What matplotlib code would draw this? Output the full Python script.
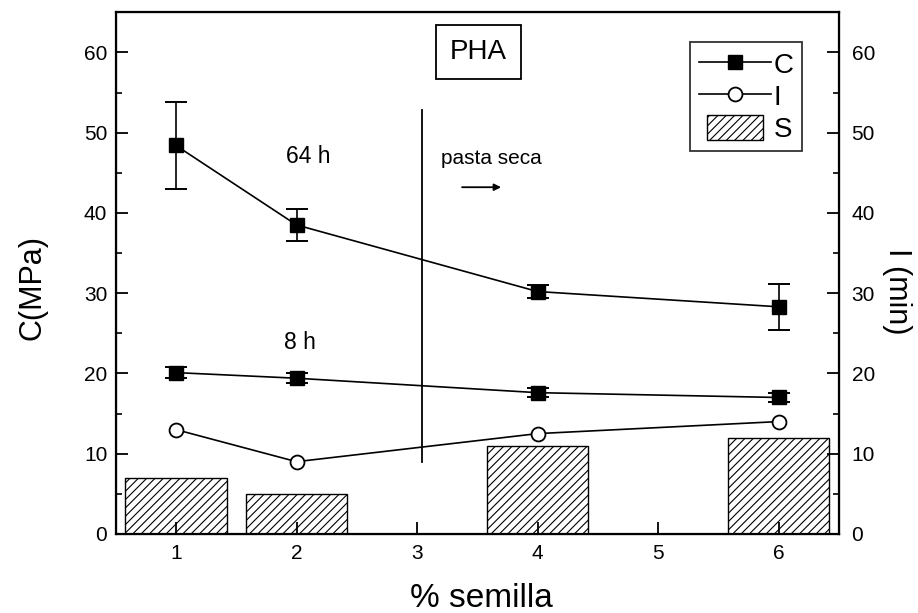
import matplotlib
matplotlib.use("Agg")
import matplotlib.pyplot as plt
from matplotlib.lines import Line2D
from matplotlib.patches import Rectangle
from matplotlib.legend_handler import HandlerPatch
from matplotlib.ticker import MultipleLocator

plt.rcParams.update({
    "font.family": "sans-serif",
    "font.sans-serif": ["Liberation Sans", "DejaVu Sans"],
    "hatch.linewidth": 0.8,
})

semilla = [1, 2, 4, 6]
c_64h = [48.4, 38.5, 30.2, 28.3]
c_64h_err = [5.4, 2.0, 0.8, 2.9]
c_8h = [20.1, 19.4, 17.6, 17.0]
c_8h_err = [0.7, 0.6, 0.6, 0.6]
i_min = [13.0, 9.0, 12.5, 14.0]
s_bar = [7.0, 5.0, 11.0, 12.0]

fig = plt.figure(figsize=(9.18, 6.13), dpi=100)
ax = fig.add_axes([0.126, 0.129, 0.788, 0.851])

ax.bar(semilla, s_bar, width=0.84, color="white", edgecolor="black",
       hatch="////", lw=1.0, zorder=1)
ax.plot(semilla, i_min, "-o", color="black", mfc="white", mec="black",
        ms=10, lw=1.2, mew=1.3, zorder=3)
for valores, errores in [(c_64h, c_64h_err), (c_8h, c_8h_err)]:
    ax.errorbar(semilla, valores, yerr=errores, fmt="-s", color="black",
                ms=10, lw=1.2, capsize=8, capthick=1.4, elinewidth=1.2,
                zorder=3)

ax.plot([3.04, 3.04], [9.0, 52.8], color="black", lw=1.3)
ax.text(2.1, 47.0, "64 h", fontsize=16.5, ha="center", va="center")
ax.text(2.03, 23.8, "8 h", fontsize=16.5, ha="center", va="center")
ax.text(3.2, 46.8, "pasta seca", fontsize=15, ha="left", va="center")
ax.annotate("", xy=(3.72, 43.2), xytext=(3.35, 43.2),
            arrowprops=dict(arrowstyle="-|>", color="black", lw=1.3,
                            mutation_scale=10))
ax.text(3.51, 60.0, "PHA", fontsize=20, ha="center", va="center",
        bbox=dict(boxstyle="square,pad=0.5", fc="white", ec="black", lw=1.3))

ax.set_xlim(0.5, 6.5)
ax.set_ylim(0, 65)
ax.set_xticks([1, 2, 3, 4, 5, 6])
ax.yaxis.set_major_locator(MultipleLocator(10))
ax.yaxis.set_minor_locator(MultipleLocator(5))
ax.tick_params(axis="both", direction="in", length=8.5, width=1.3,
               labelsize=15, top=False)
ax.tick_params(axis="y", which="minor", direction="in", length=4.5, width=1.2)
ax.tick_params(axis="x", pad=7)
ax.tick_params(axis="y", pad=6)
for sp in ax.spines.values():
    sp.set_linewidth(1.6)
ax.set_xlabel("% semilla", fontsize=24, va="center", ha="center")
ax.xaxis.set_label_coords(0.505, -0.123)
ax.set_ylabel("C(MPa)", fontsize=22, va="center", ha="center")
ax.yaxis.set_label_coords(-0.115, 0.473)

ax2 = ax.twinx()
ax2.set_ylim(0, 65)
ax2.yaxis.set_major_locator(MultipleLocator(10))
ax2.yaxis.set_minor_locator(MultipleLocator(5))
ax2.tick_params(axis="y", direction="in", length=8.5, width=1.3,
                labelsize=15, pad=9)
ax2.tick_params(axis="y", which="minor", direction="in", length=4.5, width=1.2)
ax2.set_ylabel("I (min)", fontsize=22, rotation=270, va="center", ha="center")
ax2.yaxis.set_label_coords(1.080, 0.466)


def parche_corto(legend, orig_handle, xdescent, ydescent, width, height,
                 fontsize):
    ancho = width * 0.78
    return Rectangle((-xdescent + (width - ancho) / 2, -ydescent), ancho,
                     height)


h_c = Line2D([], [], color="black", marker="s", ms=10, lw=1.2)
h_i = Line2D([], [], color="black", marker="o", mfc="white", ms=10,
             lw=1.2, mew=1.3)
h_s = Rectangle((0, 0), 1, 1, fc="white", ec="black", hatch="////", lw=1.0)
leg = ax.legend([h_c, h_i, h_s], ["C", "I", "S"],
                loc="upper right", bbox_to_anchor=(0.949, 0.9425),
                fontsize=20, frameon=True, fancybox=False,
                edgecolor="black", handlelength=2.6, handleheight=1.0,
                handletextpad=0.1, borderpad=0.3, labelspacing=0.15,
                borderaxespad=0,
                handler_map={Rectangle: HandlerPatch(patch_func=parche_corto)})
leg.get_frame().set_linewidth(1.3)

fig.savefig("out.png", facecolor="white")
